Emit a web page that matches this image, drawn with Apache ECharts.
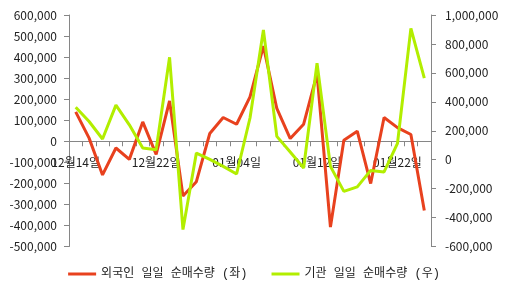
<!DOCTYPE html>
<html><head><meta charset="utf-8">
<script src="https://cdn.jsdelivr.net/npm/echarts@6/dist/echarts.min.js"></script>
<style>html,body{margin:0;padding:0;background:#fff}#c{width:508px;height:294px}</style>
</head><body><div id="c"></div>
<script>
const categories = ['12월14일','12월15일','12월18일','12월19일','12월20일','12월21일','12월22일','12월26일','12월27일','12월28일','01월02일','01월03일','01월04일','01월05일','01월08일','01월09일','01월10일','01월11일','01월12일','01월15일','01월16일','01월17일','01월18일','01월19일','01월22일','01월23일','01월24일'];
const foreignNet = [140000,15000,-160000,-32000,-86000,92000,-62000,192000,-260000,-192000,37000,113000,81000,211000,452000,156000,13000,81000,320000,-408000,5000,48000,-201000,113000,65000,32000,-329000];
const instNet = [363000,264000,143000,377000,241000,81000,69000,708000,-483000,46000,2000,-46000,-99000,288000,897000,161000,53000,-57000,667000,-46000,-219000,-188000,-74000,-85000,113000,908000,563000];
const seriesNames = ['외국인 일일 순매수량 (좌)','기관 일일 순매수량 (우)'];
const leftAxis = {min:-500000, max:600000, step:100000};
const rightAxis = {min:-600000, max:1000000, step:200000};

const W = 508, H = 294;
const gridTop = 15, gridBottom = 47.5;
const plotH = H - gridTop - gridBottom;
// x axis sits on the left axis' zero value
const zeroOffset = -((0 - leftAxis.min) / (leftAxis.max - leftAxis.min)) * plotH;

const font = '"Noto Sans CJK KR", "Noto Sans", sans-serif';
const legendFont = '"Liberation Mono", "Noto Sans CJK KR", sans-serif';
const axisGray = '#868686';
const fmt = v => v.toLocaleString('en-US');
const chart = echarts.init(document.getElementById('c'), null, {renderer:'canvas'});
chart.setOption({
  animation:false,
  textStyle:{fontFamily:font},
  grid:{left:69, right:77, top:gridTop, bottom:gridBottom, containLabel:false},
  legend:{
    top:263, left:'center', itemWidth:28, itemHeight:3, itemGap:24, icon:'rect',
    textStyle:{fontSize:12, color:'#222', fontFamily:legendFont},
    data:seriesNames
  },
  xAxis:{
    type:'category', data:categories, boundaryGap:true, position:'bottom', offset:zeroOffset,
    axisLine:{onZero:false, lineStyle:{color:axisGray, width:1}},
    axisTick:{show:true, interval:0, length:5, lineStyle:{color:axisGray}},
    axisLabel:{interval:5, fontSize:12, color:'#222', margin:15, fontFamily:font},
    splitLine:{show:false}
  },
  yAxis:[
    {type:'value', min:leftAxis.min, max:leftAxis.max, interval:leftAxis.step, position:'left',
     axisLine:{show:true, lineStyle:{color:axisGray}},
     axisTick:{show:true, length:5, lineStyle:{color:axisGray}},
     axisLabel:{formatter:fmt, fontSize:12, color:'#222', margin:12, fontFamily:font},
     splitLine:{show:false}},
    {type:'value', min:rightAxis.min, max:rightAxis.max, interval:rightAxis.step, position:'right',
     axisLine:{show:true, lineStyle:{color:axisGray}},
     axisTick:{show:true, length:5, lineStyle:{color:axisGray}},
     axisLabel:{formatter:fmt, fontSize:12, color:'#222', margin:14, fontFamily:font},
     splitLine:{show:false}}
  ],
  series:[
    {name:seriesNames[0], type:'line', yAxisIndex:0, data:foreignNet, symbol:'none',
     lineStyle:{color:'#e8411e', width:3}, itemStyle:{color:'#e8411e'}, z:2},
    {name:seriesNames[1], type:'line', yAxisIndex:1, data:instNet, symbol:'none',
     lineStyle:{color:'#b2ee00', width:3}, itemStyle:{color:'#b2ee00'}, z:3}
  ]
});
</script></body></html>
